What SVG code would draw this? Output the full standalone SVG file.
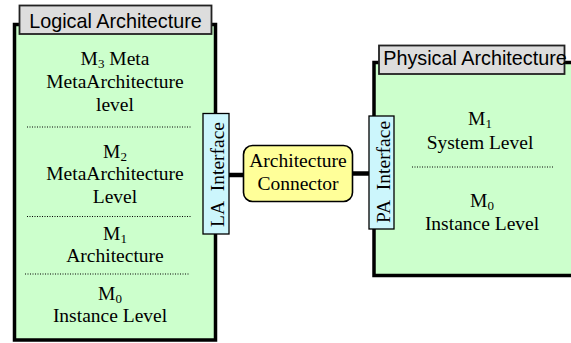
<svg xmlns="http://www.w3.org/2000/svg" width="571" height="343" viewBox="0 0 571 343">
<style>
.frame{fill:#ccffcc;stroke:#000;stroke-width:3.5}
.tab{fill:#dddddd;stroke:#222;stroke-width:1.8}
.tabt{font-family:"Liberation Sans",Arial,sans-serif;font-size:19.8px;fill:#000}
.t{font-family:"Liberation Serif","Times New Roman",serif;font-size:19.5px;fill:#000;text-anchor:middle}
.sub{font-size:13px}
.dot{stroke:#000;stroke-width:1;stroke-dasharray:1,1.5}
.iface{fill:#ccf6fc;stroke:#000;stroke-width:1.3}
.conn{stroke:#000;stroke-width:4.5;fill:none}
.yel{fill:#ffff99;stroke:#000;stroke-width:1.6}
</style>
<g id="connectors">
<line class="conn" x1="228" y1="175" x2="245" y2="175"/>
<line class="conn" x1="351" y1="173.5" x2="371" y2="173.5"/>
</g>
<g id="logical">
<rect class="frame" x="14.5" y="24.5" width="201" height="315.5"/>
<rect class="tab" x="19.5" y="5.5" width="192" height="28.5"/>
<text class="tabt" x="115.5" y="28" text-anchor="middle">Logical Architecture</text>
<text class="t" x="115" y="64.5">M<tspan class="sub" dy="3">3</tspan><tspan dy="-3"> Meta</tspan></text>
<text class="t" x="115" y="87.5">MetaArchitecture</text>
<text class="t" x="115" y="111">level</text>
<line class="dot" x1="27" y1="127" x2="191" y2="127"/>
<text class="t" x="115" y="157.5">M<tspan class="sub" dy="3">2</tspan></text>
<text class="t" x="115" y="179.5">MetaArchitecture</text>
<text class="t" x="115" y="202.5">Level</text>
<line class="dot" x1="27" y1="216.5" x2="191" y2="216.5"/>
<text class="t" x="115" y="239.5">M<tspan class="sub" dy="3">1</tspan></text>
<text class="t" x="115" y="262">Architecture</text>
<line class="dot" x1="25" y1="274" x2="189" y2="274"/>
<text class="t" x="110" y="299.5">M<tspan class="sub" dy="3">0</tspan></text>
<text class="t" x="110" y="322">Instance Level</text>
</g>
<g id="la-interface">
<rect class="iface" x="203" y="113.5" width="26" height="120.5"/>
<text class="t" transform="translate(223.5,174.5) rotate(-90)">LA&#160;&#160;Interface</text>
</g>
<g id="architecture-connector">
<rect class="yel" x="243.5" y="145.5" width="109" height="56" rx="9"/>
<text class="t" x="298" y="167">Architecture</text>
<text class="t" x="298" y="189.5">Connector</text>
</g>
<g id="physical">
<rect class="frame" x="374" y="62.5" width="220" height="213"/>
<rect class="tab" x="379" y="45.5" width="185.5" height="28.5"/>
<text class="tabt" x="475" y="64.5" text-anchor="middle">Physical Architecture</text>
<text class="t" x="480" y="125">M<tspan class="sub" dy="3">1</tspan></text>
<text class="t" x="480" y="148.5">System Level</text>
<line class="dot" x1="412" y1="167" x2="553" y2="167"/>
<text class="t" x="482" y="207">M<tspan class="sub" dy="3">0</tspan></text>
<text class="t" x="482" y="230">Instance Level</text>
</g>
<g id="pa-interface">
<rect class="iface" x="369" y="116" width="25" height="113"/>
<text class="t" transform="translate(390,172) rotate(-90)">PA&#160;&#160;Interface</text>
</g>
</svg>
